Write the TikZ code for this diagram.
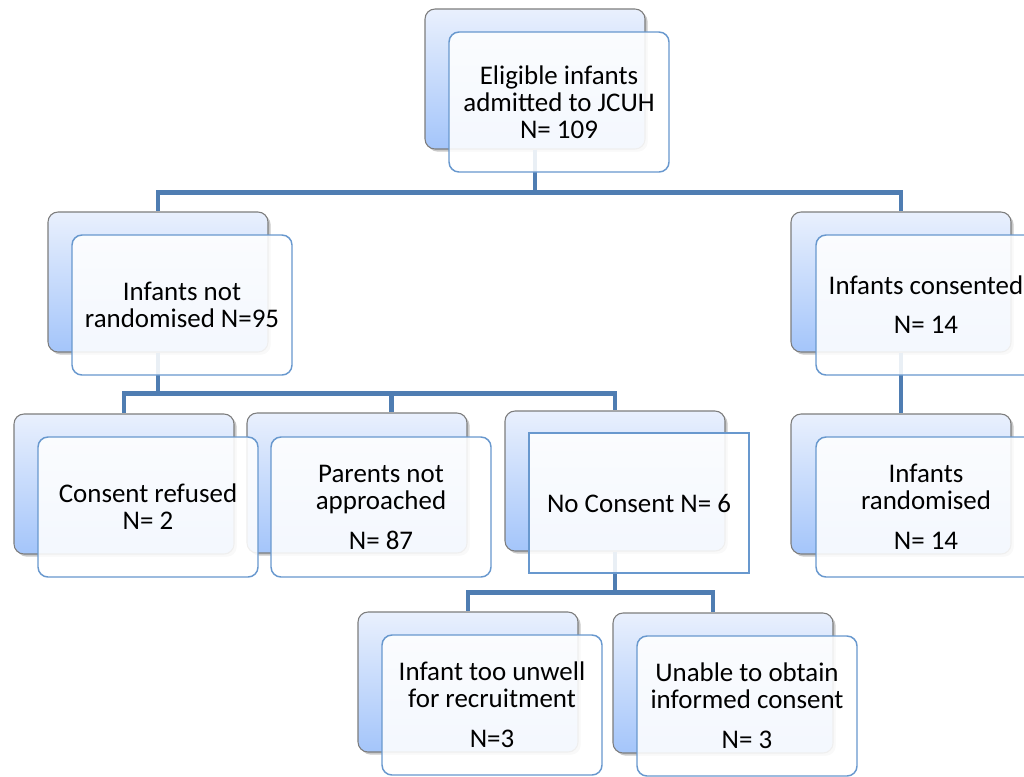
\documentclass[tikz,border=0pt]{standalone}
\usepackage{fontspec}
\setmainfont{Carlito}
\usetikzlibrary{positioning,shadows}
\definecolor{barblue}{RGB}{79,125,178}
\definecolor{edgeblue}{RGB}{104,152,206}
\definecolor{cardtop}{RGB}{233,240,253}
\definecolor{cardbot}{RGB}{164,197,250}
\definecolor{cardedge}{RGB}{125,125,125}

\begin{document}
\begin{tikzpicture}
[x=0.75pt,y=-0.75pt,
back/.style={rectangle,rounded corners=7.5pt,draw=cardedge,line width=0.8pt,top color=cardtop,bottom color=cardbot,minimum width=165pt,minimum height=105pt,drop shadow={shadow xshift=2pt,shadow yshift=-2pt,opacity=0.3,fill=black!70}},
front/.style={rectangle,rounded corners=7.5pt,draw=edgeblue,line width=1.1pt,fill=white,fill opacity=0.88,text opacity=1,minimum width=165pt,minimum height=105pt,align=center,font=\fontsize{20.2}{20.25}\selectfont},
conn/.style={draw=barblue,line width=3.6pt}]
\useasboundingbox (0,0) rectangle (1024,776);

\node[back] (topb) at (535,79) {};
\node[back] (nrb) at (158,282) {};
\node[back] (consb) at (901,282) {};
\node[back] (refb) at (124,484) {};
\node[back] (parb) at (357,483) {};
\node[back] (ncb) at (615,481) {};
\node[back] (randb) at (901,484) {};
\node[back] (unwb) at (468,682) {};
\node[back] (unab) at (723,683) {};

\draw[conn] (topb.south) -- ++(0,43) coordinate (j0);
\draw[conn] (j0) -| (nrb.north);
\draw[conn] (j0) -| (consb.north);
\draw[conn] (nrb.south) -- ++(0,41) coordinate (j1);
\draw[conn] (j1) -| (refb.north);
\draw[conn] (j1) -| ([xshift=26pt]parb.north);
\draw[conn] (j1) -| (ncb.north);
\draw[conn] (ncb.south) -- ++(0,41) coordinate (j2);
\draw[conn] (j2) -| (unwb.north);
\draw[conn] (j2) -| ([xshift=-7.5pt]unab.north);
\draw[conn] (consb.south) -- (randb.north);

\node[front] (top) at (559,102) {Eligible infants\\admitted to JCUH\\N= 109};
\node[front] (nr) at (182,305) {Infants not\\randomised N=95};
\node[front] (cons) at (926,305) {Infants consented\\[9pt]N= 14};
\node[front] (ref) at (148,507) {Consent refused\\N= 2};
\node[front] (par) at (381,507) {Parents not\\approached\\[9.75pt]N= 87};
\node[front,sharp corners] (nc) at (639,503) {No Consent N= 6};
\node[front] (rand) at (926,507) {Infants\\randomised\\[9.75pt]N= 14};
\node[front] (unw) at (492,705) {Infant too unwell\\for recruitment\\[9.75pt]N=3};
\node[front] (una) at (747,706) {Unable to obtain\\informed consent\\[9.75pt]N= 3};
\end{tikzpicture}
\end{document}
